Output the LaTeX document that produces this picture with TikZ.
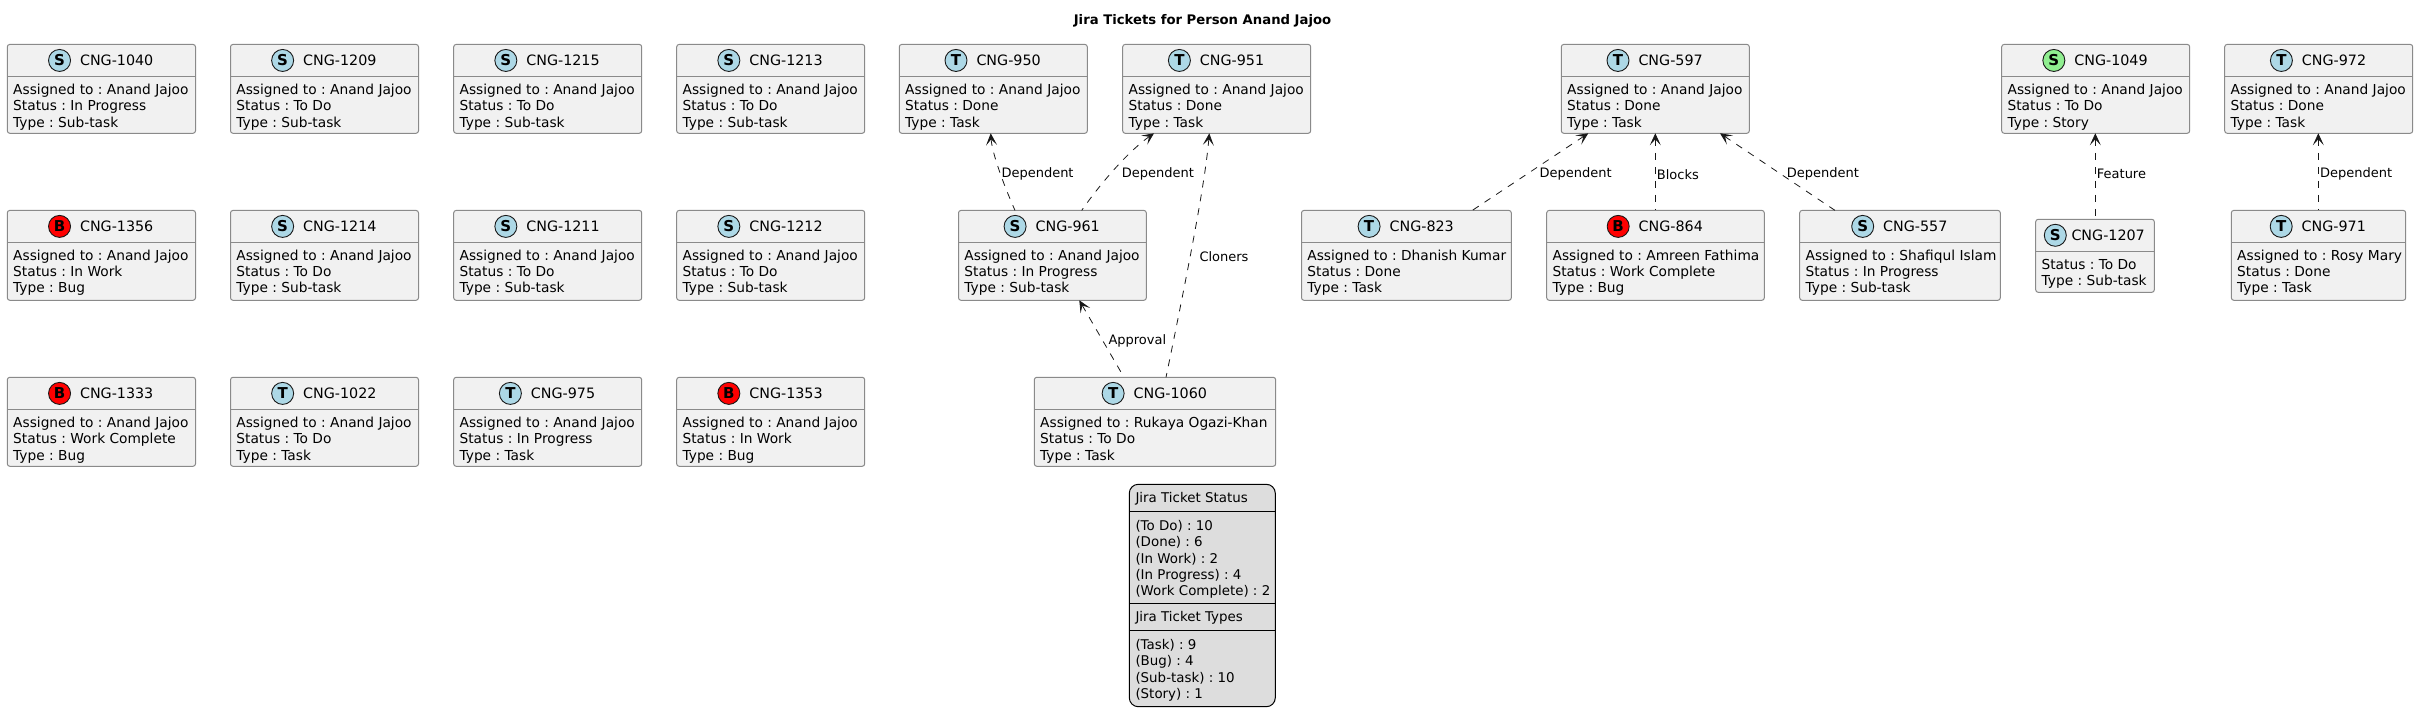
\documentclass[tikz,border=0pt]{standalone}
\usepackage{fontspec}
\setmainfont{DejaVu Sans}
\frenchspacing
\usetikzlibrary{arrows.meta}
\definecolor{boxfill}{HTML}{F1F1F1}
\definecolor{boxline}{HTML}{8A8A8A}
\definecolor{legfill}{HTML}{DDDDDD}
\definecolor{tblue}{HTML}{ADD8E6}
\definecolor{sgreen}{HTML}{90EE90}
\definecolor{bred}{HTML}{FF0000}
\definecolor{ink}{HTML}{181818}
\newcommand{\tfont}{\fontsize{14.3}{16.4}\selectfont}
\newcommand{\bfont}{\fontsize{13.75}{16.4}\selectfont}
\tikzset{
 x=1pt,y=-1pt,
 card/.style={draw=boxline,fill=boxfill,line width=1pt,rounded corners=2.5pt,inner sep=0pt,outer sep=0pt,anchor=north west},
 badge/.style={circle,draw=ink,line width=.9pt,minimum size=22pt,inner sep=0pt,outer sep=0pt,font=\fontsize{15}{15}\selectfont\bfseries,text=black},
 ttl/.style={inner sep=0pt,anchor=base,font=\tfont,text=black},
 body/.style={inner sep=0pt,anchor=north west,align=left,font=\bfont,text=black},
 legtext/.style={inner sep=0pt,anchor=north west,align=left,font=\fontsize{13.4}{16.4}\selectfont,text=black},
 dep/.style={draw=ink,line width=.8pt,dash pattern=on 7pt off 7pt,{Stealth[length=12pt,width=11pt,inset=6pt]}-},
 lbl/.style={inner sep=0pt,anchor=west,font=\fontsize{13}{15}\selectfont,text=black},
 legbox/.style={draw=black,fill=legfill,line width=1pt,rounded corners=9pt,inner sep=0pt,outer sep=0pt,anchor=north west},
 legline/.style={draw=black,line width=1pt},
}
\newcommand{\tgap}{9.3}
\newcommand{\fl}{\rule{0pt}{11pt}}
% number, x1, x2, y1, y2, ydiv, colour, letter, body
\newcommand{\tk}[9]{%
 \node[card,minimum width={(#3-#2)*1pt},minimum height={(#5-#4)*1pt}] (n#1) at (#2,#4) {};
 \draw[draw=boxline,line width=1pt] (#2,#6) -- (#3,#6);
 \node[ttl] (t#1) at ({(#2+#3)/2-0.5+(22.3+\tgap)/2},{(#4+#6)/2+5.5}) {CNG-#1};
 \node[badge,fill=#7,anchor=east] (b#1) at ([xshift=-\tgap pt]t#1.base west |- 0,{(#4+#6)/2}) {#8};
 \node[body] (c#1) at ({#2+5.7},{#6+6.5}) {\fl#9};
}
\newcommand{\rowa}[7]{\tk{#1}{#2}{#3}{44.4}{133.3}{76.5}{#4}{#5}{Assigned to : #6\\#7}}
\newcommand{\rowb}[7]{\tk{#1}{#2}{#3}{210.4}{300.3}{242.4}{#4}{#5}{Assigned to : #6\\#7}}
\newcommand{\rowc}[7]{\tk{#1}{#2}{#3}{377.3}{466.3}{409.5}{#4}{#5}{Assigned to : #6\\#7}}
\newcommand{\AJ}{Anand Jajoo}
\begin{document}
\begin{tikzpicture}
\useasboundingbox (0,0) rectangle (2418,725);
\node[inner sep=0pt,font=\fontsize{13.2}{15}\selectfont\bfseries,text=black] (title) at (1202.5,20.5) {Jira Tickets for Person Anand Jajoo};
% row 1
\rowa{1040}{7.3}{195.5}{tblue}{S}{\AJ}{Status : In Progress\\Type : Sub-task}
\rowa{1209}{230.5}{418.5}{tblue}{S}{\AJ}{Status : To Do\\Type : Sub-task}
\rowa{1215}{453.7}{641.7}{tblue}{S}{\AJ}{Status : To Do\\Type : Sub-task}
\rowa{1213}{676.7}{864.7}{tblue}{S}{\AJ}{Status : To Do\\Type : Sub-task}
\rowa{950}{899.3}{1087.3}{tblue}{T}{\AJ}{Status : Done\\Type : Task}
\rowa{951}{1122.7}{1310.7}{tblue}{T}{\AJ}{Status : Done\\Type : Task}
\rowa{597}{1561.3}{1749.3}{tblue}{T}{\AJ}{Status : Done\\Type : Task}
\rowa{1049}{2001.7}{2189.7}{sgreen}{S}{\AJ}{Status : To Do\\Type : Story}
\rowa{972}{2224.7}{2412.7}{tblue}{T}{\AJ}{Status : Done\\Type : Task}
% row 2
\rowb{1356}{7.3}{195.5}{bred}{B}{\AJ}{Status : In Work\\Type : Bug}
\rowb{1214}{230.5}{418.5}{tblue}{S}{\AJ}{Status : To Do\\Type : Sub-task}
\rowb{1211}{453.7}{641.7}{tblue}{S}{\AJ}{Status : To Do\\Type : Sub-task}
\rowb{1212}{676.7}{864.7}{tblue}{S}{\AJ}{Status : To Do\\Type : Sub-task}
\rowb{961}{958.5}{1146.3}{tblue}{S}{\AJ}{Status : In Progress\\Type : Sub-task}
\rowb{823}{1301.5}{1511.3}{tblue}{T}{Dhanish Kumar}{Status : Done\\Type : Task}
\rowb{864}{1546.7}{1764.3}{bred}{B}{Amreen Fathima}{Status : Work Complete\\Type : Bug}
\rowb{557}{1799.7}{2000.3}{tblue}{S}{Shafiqul Islam}{Status : In Progress\\Type : Sub-task}
\rowb{971}{2231.3}{2405.7}{tblue}{T}{Rosy Mary}{Status : Done\\Type : Task}
\renewcommand{\tgap}{5}
\tk{1207}{2035.7}{2154.3}{219.3}{292.3}{251.3}{tblue}{S}{Status : To Do\\Type : Sub-task}
\renewcommand{\tgap}{9.3}
% row 3
\rowc{1333}{7.3}{195.5}{bred}{B}{\AJ}{Status : Work Complete\\Type : Bug}
\rowc{1022}{230.5}{418.5}{tblue}{T}{\AJ}{Status : To Do\\Type : Task}
\rowc{975}{453.7}{641.7}{tblue}{T}{\AJ}{Status : In Progress\\Type : Task}
\rowc{1353}{676.7}{864.7}{bred}{B}{\AJ}{Status : In Work\\Type : Bug}
\rowc{1060}{1034.3}{1275.7}{tblue}{T}{Rukaya Ogazi-Khan}{Status : To Do\\Type : Task}
% legend
\node[legbox,minimum width=146pt,minimum height=222.4pt] (legend) at (1129.3,484.3) {};
\draw[legline] (legend.west |- 0,511.3) -- (legend.east |- 0,511.3);
\draw[legline] (legend.west |- 0,603.3) -- (legend.east |- 0,603.3);
\draw[legline] (legend.west |- 0,630.3) -- (legend.east |- 0,630.3);
\node[legtext] (leghead1) at (1135.3,491.7) {\fl Jira Ticket Status};
\node[legtext] (legbody1) at (1135.3,519) {\fl(To Do) : 10\\(Done) : 6\\(In Work) : 2\\(In Progress) : 4\\(Work Complete) : 2};
\node[legtext] (leghead2) at (1135.3,610.7) {\fl Jira Ticket Types};
\node[legtext] (legbody2) at (1135.3,638) {\fl(Task) : 9\\(Bug) : 4\\(Sub-task) : 10\\(Story) : 1};
% connectors (drawn from the arrowhead to the tail)
\draw[dep] ([xshift=91.4pt]n950.south west) .. controls (992,152) and (1002,181) .. ([xshift=56.5pt]n961.north west);
\draw[dep] ([xshift=31.3pt]n951.south west) .. controls (1130,150) and (1103,180) .. ([xshift=123.2pt]n961.north west);
\draw[dep] ([xshift=86.6pt]n951.south west) .. controls (1205,185) and (1186,280) .. ([xshift=131.7pt]n1060.north west);
\draw[dep] ([xshift=120.8pt]n961.south west) -- ([xshift=89.7pt]n1060.north west);
\draw[dep] ([xshift=27pt]n597.south west) -- ([xshift=170.8pt]n823.north west);
\draw[dep] ([xshift=94pt]n597.south west) -- ([xshift=108.6pt]n864.north west);
\draw[dep] ([xshift=158.7pt]n597.south west) -- ([xshift=35.3pt]n557.north west);
\draw[dep] ([xshift=93.6pt]n1049.south west) -- ([xshift=59.6pt]n1207.north west);
\draw[dep] ([xshift=93.6pt]n972.south west) -- ([xshift=87pt]n971.north west);
% labels
\node[lbl] (l1) at (1001.3,174.3) {Dependent};
\node[lbl] (l2) at (1121.7,174.3) {Dependent};
\node[lbl] (l3) at (1199.3,256.7) {Cloners};
\node[lbl] (l4) at (1108.3,341) {Approval};
\node[lbl] (l5) at (1539.3,174.3) {Dependent};
\node[lbl] (l6) at (1656.7,174.3) {Blocks};
\node[lbl] (l7) at (1786.7,174.3) {Dependent};
\node[lbl] (l8) at (2096.7,174.3) {Feature};
\node[lbl] (l9) at (2320,174.3) {Dependent};
\end{tikzpicture}
\end{document}
